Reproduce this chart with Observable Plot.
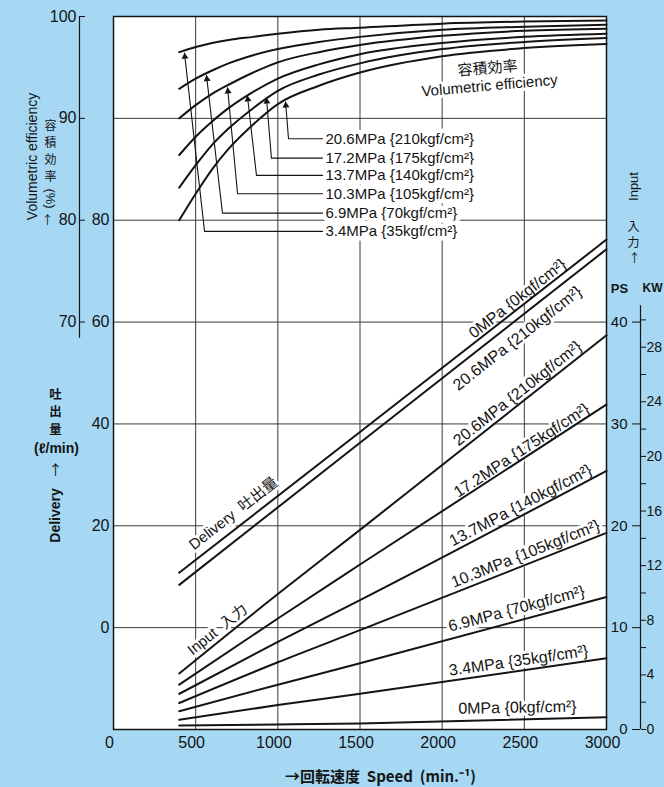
<!DOCTYPE html>
<html>
<head>
<meta charset="utf-8">
<script src="https://cdn.jsdelivr.net/npm/d3@7"></script>
<script src="https://cdn.jsdelivr.net/npm/@observablehq/plot@0.6"></script>
<style>
  html, body { margin: 0; padding: 0; background: #a6d8f4; }
  #chart svg { display: block; }
</style>
</head>
<body>
<div id="chart"></div>
<script>
// ---------------- data ----------------
// Volumetric efficiency (%) vs speed (min^-1)
const effSpeeds = [400, 500, 600, 700, 850, 1000, 1250, 1500, 2000, 2500, 3000];
const eff_3_4  = [96.5, 97.0, 97.4, 97.7, 98.0, 98.3, 98.7, 98.9, 99.3, 99.5, 99.6];
const eff_6_9  = [92.9, 93.9, 94.7, 95.4, 96.2, 96.8, 97.5, 98.0, 98.7, 99.0, 99.2];
const eff_10_3 = [90.0, 91.3, 92.4, 93.3, 94.5, 95.5, 96.5, 97.2, 98.1, 98.6, 98.8];
const eff_13_7 = [86.4, 88.2, 89.7, 91.0, 92.6, 93.9, 95.3, 96.3, 97.4, 98.0, 98.3];
const eff_17_2 = [83.2, 85.4, 87.4, 89.0, 91.0, 92.7, 94.3, 95.4, 96.8, 97.5, 97.9];
const eff_20_6 = [80.0, 82.6, 85.0, 87.0, 89.4, 91.4, 93.2, 94.5, 96.1, 96.9, 97.3];

// Delivery (l/min) vs speed
const delivSpeeds = [400, 1500, 3000];
const deliv_0    = [10.8, 38.4, 76.2];
const deliv_20_6 = [8.4, 36.3, 74.3];

// Input (PS) vs speed
const inputSpeeds = [400, 1000, 1500, 3000];
const input_20_6 = [5.5, 13.3, 19.6, 38.7];
const input_17_2 = [4.4, 10.9, 16.2, 31.9];
const input_13_7 = [3.5, 8.6, 12.7, 25.4];
const input_10_3 = [2.6, 6.6, 9.75, 19.3];
const input_6_9  = [1.8, 4.4, 6.5, 13.0];
const input_3_4  = [0.95, 2.4, 3.5, 7.0];
const input_0    = [0.4, 0.5, 0.6, 1.2];

// tick values
const xTicks = [0, 500, 1000, 1500, 2000, 2500, 3000];
const xGrid = [500, 1000, 1500, 2000, 2500];
const effTicks = [100, 90, 80, 70];
const delivTicks = [80, 60, 40, 20, 0];
const delivGrid = [0, 20, 40, 60, 80, 100];
const psTicks = [0, 10, 20, 30, 40];
const kwTicks = [0, 2, 4, 6, 8, 10, 12, 14, 16, 18, 20, 22, 24, 26, 28, 30];
const kwPerPs = 0.746;

// pressure callouts for the efficiency curves
const calloutText = ["20.6MPa {210kgf/cm²}", "17.2MPa {175kgf/cm²}", "13.7MPa {140kgf/cm²}",
                     "10.3MPa {105kgf/cm²}", "6.9MPa {70kgf/cm²}", "3.4MPa {35kgf/cm²}"];
const calloutTipSpeed  = [1047, 931, 815, 694, 566, 432];
const calloutTipEff    = [91.6, 92.0, 92.2, 93.0, 94.2, 96.4];
const calloutBendSpeed = [1065, 961, 870, 755, 663, 554];
const calloutRowEff    = [88.0, 86.1, 84.4, 82.6, 80.7, 78.9];
const calloutEndSpeed  = 1272;
const calloutTextSpeed = 1290;

// labels written along the straight lines
const lineLabelText = ["0MPa {0kgf/cm²}", "20.6MPa {210kgf/cm²}", "20.6MPa {210kgf/cm²}",
  "17.2MPa {175kgf/cm²}", "13.7MPa {140kgf/cm²}", "10.3MPa {105kgf/cm²}",
  "6.9MPa {70kgf/cm²}", "3.4MPa {35kgf/cm²}", "0MPa {0kgf/cm²}"];
const lineLabelSeries = ["d0", "d20.6", "i20.6", "i17.2", "i13.7", "i10.3", "i6.9", "i3.4", "i0"];
const lineLabelSpeed = [2458, 2458, 2458, 2483, 2477, 2507, 2452, 2465, 2458];
const lineLabelValue = [64.6, 56.8, 33.0, 27.4, 22.0, 17.25, 11.85, 6.75, 2.15];

// ---------------- layout ----------------
const W = 664, H = 787, ML = 113, MR = 58, MT = 16, MB = 58;
const yDomain = [-20, 120];              // common y unit = delivery l/min
const eff = e => 2 * e - 80;             // efficiency % -> common unit
const ps = p => 2 * p - 20;              // PS -> common unit
const kw = k => ps(k / kwPerPs);         // kW -> common unit
const kx = (W - ML - MR) / 3000;
const ky = (H - MT - MB) / (yDomain[1] - yDomain[0]);
const angleOf = (xs, ds) =>
  -Math.atan2((ds[ds.length - 1] - ds[0]) * ky, (xs[xs.length - 1] - xs[0]) * kx) * 180 / Math.PI;

const latin = "'Liberation Sans', Arial, 'Noto Sans CJK JP', sans-serif";
const cjk = "'Noto Sans CJK JP', 'Liberation Sans', sans-serif";
const ink = "#141414";

// ---------------- tables ----------------
const effNames = ["3.4", "6.9", "10.3", "13.7", "17.2", "20.6"];
const effVals = [eff_3_4, eff_6_9, eff_10_3, eff_13_7, eff_17_2, eff_20_6];
const effRows = effNames.flatMap((n, i) => effSpeeds.map((s, j) => ({n, x: s, y: eff(effVals[i][j])})));

const series = {
  "d0": {xs: delivSpeeds, ds: deliv_0},
  "d20.6": {xs: delivSpeeds, ds: deliv_20_6},
  "i20.6": {xs: inputSpeeds, ds: input_20_6.map(ps)},
  "i17.2": {xs: inputSpeeds, ds: input_17_2.map(ps)},
  "i13.7": {xs: inputSpeeds, ds: input_13_7.map(ps)},
  "i10.3": {xs: inputSpeeds, ds: input_10_3.map(ps)},
  "i6.9": {xs: inputSpeeds, ds: input_6_9.map(ps)},
  "i3.4": {xs: inputSpeeds, ds: input_3_4.map(ps)},
  "i0": {xs: inputSpeeds, ds: input_0.map(ps)}
};
const straightRows = Object.entries(series).flatMap(([n, s]) => s.xs.map((x, j) => ({n, x, y: s.ds[j]})));

const lineLabelRows = lineLabelText.map((t, i) => {
  const s = series[lineLabelSeries[i]];
  const isDeliv = lineLabelSeries[i].startsWith("d");
  return {text: t, x: lineLabelSpeed[i], y: isDeliv ? lineLabelValue[i] : ps(lineLabelValue[i]),
          angle: angleOf(s.xs, s.ds)};
});
const seriesLabelRows = [
  {text: "Delivery  吐出量", x: 730, y: 22.4, angle: angleOf(series["d0"].xs, series["d0"].ds)},
  {text: "Input  入力", x: 633, y: ps(9.8), angle: angleOf(series["i20.6"].xs, series["i20.6"].ds)}
];

const leaderRows = calloutText.flatMap((t, i) => [
  {n: t, x: calloutTipSpeed[i], y: eff(calloutTipEff[i])},
  {n: t, x: calloutBendSpeed[i], y: eff(calloutRowEff[i])},
  {n: t, x: calloutEndSpeed, y: eff(calloutRowEff[i])}
]);
const headRows = calloutText.map((t, i) => {
  const dxp = (calloutBendSpeed[i] - calloutTipSpeed[i]) * kx;
  const dyp = (eff(calloutTipEff[i]) - eff(calloutRowEff[i])) * ky;
  const len = Math.hypot(dxp, dyp), back = 3.5 / len;
  return {
    x: calloutTipSpeed[i] + (calloutBendSpeed[i] - calloutTipSpeed[i]) * back,
    y: eff(calloutTipEff[i]) + (eff(calloutRowEff[i]) - eff(calloutTipEff[i])) * back,
    r: -Math.atan2(dxp, dyp) * 180 / Math.PI
  };
});
const calloutLabelRows = calloutText.map((t, i) => ({text: t, x: calloutTextSpeed, y: eff(calloutRowEff[i])}));

// free-standing annotation in frame pixel space
const note = (text, px, py, opts = {}) => Plot.text([text], {
  frameAnchor: "top-left", dx: px - ML, dy: py - MT, text: d => d,
  textAnchor: "middle", lineAnchor: "middle", fill: ink, fontFamily: cjk, fontSize: 14, ...opts
});
// vertical stack of CJK characters
const stack = (chars, px, py0, step, opts = {}) => Array.from(chars).map((c, i) => note(c, px, py0 + i * step, opts));

const chart = Plot.plot({
  width: W, height: H,
  marginLeft: ML, marginRight: MR, marginTop: MT, marginBottom: MB,
  style: {background: "#a6d8f4", fontFamily: latin, fontSize: "16px", color: ink},
  x: {domain: [0, 3000], axis: null},
  y: {domain: yDomain, axis: null},
  marks: [
    Plot.frame({fill: "white", stroke: null}),
    Plot.ruleX(xGrid, {stroke: "#3a3a3a", strokeWidth: 1}),
    Plot.ruleY(delivGrid, {stroke: "#3a3a3a", strokeWidth: 1}),

    // labels with white backing (drawn under the curves)
    Plot.text(calloutLabelRows, {x: "x", y: "y", text: "text", textAnchor: "start", lineAnchor: "middle",
      fontSize: 15, fontFamily: latin, fill: ink, stroke: "white", strokeWidth: 9, paintOrder: "stroke"}),
    Plot.text(lineLabelRows, {x: "x", y: "y", text: "text", rotate: "angle", textAnchor: "middle", lineAnchor: "middle",
      fontSize: 16, fontFamily: latin, fill: ink, stroke: "white", strokeWidth: 6, paintOrder: "stroke"}),
    Plot.text(seriesLabelRows, {x: "x", y: "y", text: "text", rotate: "angle", textAnchor: "middle", lineAnchor: "middle",
      fontSize: 15, fontFamily: latin, fill: ink, stroke: "white", strokeWidth: 6, paintOrder: "stroke"}),
    Plot.text(["容積効率"], {x: 2276, y: eff(94.9), text: d => d, rotate: -5, fontFamily: cjk, fontSize: 15,
      fill: ink, stroke: "white", strokeWidth: 6, paintOrder: "stroke"}),
    Plot.text(["Volumetric efficiency"], {x: 2288, y: eff(93.2), text: d => d, rotate: -5, fontFamily: latin, fontSize: 15,
      fill: ink, stroke: "white", strokeWidth: 6, paintOrder: "stroke"}),

    // callout leaders
    Plot.line(leaderRows, {x: "x", y: "y", z: "n", stroke: ink, strokeWidth: 1.1}),
    Plot.dot(headRows, {x: "x", y: "y", rotate: "r", symbol: "triangle", r: 2.6, fill: ink, stroke: null}),

    // curves and lines
    Plot.line(effRows, {x: "x", y: "y", z: "n", curve: "monotone-x", stroke: ink, strokeWidth: 2}),
    Plot.line(straightRows, {x: "x", y: "y", z: "n", curve: "monotone-x", stroke: ink, strokeWidth: 2}),

    Plot.frame({stroke: ink, strokeWidth: 1.5}),

    // axes
    Plot.axisX(xTicks, {anchor: "bottom", tickSize: 0, tickPadding: 7, dx: -4, label: null, fontSize: 16, color: ink,
      tickFormat: d => String(d)}),
    Plot.axisY(delivTicks, {anchor: "left", tickSize: 0, tickPadding: 4, label: null, fontSize: 16, color: ink,
      tickFormat: d => String(d)}),
    Plot.axisY(effTicks.map(eff), {anchor: "left", dx: -28, tickSize: 6, tickPadding: 3, label: null, fontSize: 16,
      color: ink, tickFormat: d => String((d + 80) / 2)}),
    Plot.ruleX([0], {y1: eff(100), y2: eff(68.4), dx: -34, stroke: ink, strokeWidth: 1.2}),
    Plot.axisY(psTicks.map(ps), {anchor: "left", dx: 640 - ML, tickSize: 8, tickPadding: 5, label: null, fontSize: 15,
      color: ink, tickFormat: d => String((d + 20) / 2)}),
    Plot.axisY(kwTicks.map(kw), {anchor: "right", dx: 34, tickSize: 5, tickPadding: 1, label: null, fontSize: 14,
      color: ink, tickFormat: d => {
        const k = kwTicks.find(t => Math.abs(kw(t) - d) < 1e-6);
        return k % 4 === 0 && k <= 28 ? String(k) : "";
      }}),
    Plot.ruleX([3000], {y1: ps(0), y2: ps(41.6), dx: 34, stroke: ink, strokeWidth: 1.2}),

    // titles
    note("Volumetric efficiency", 32, 156, {rotate: -90, fontFamily: latin, fontSize: 14}),
    ...stack("容積効率", 50, 126, 17, {fontSize: 12}),
    note("(%)", 50, 198, {rotate: 90, fontFamily: latin, fontSize: 13}),
    note("↑", 47, 221, {fontSize: 12}),
    ...stack("吐出量", 55, 394, 17.5, {fontSize: 12.5, fontWeight: "bold"}),
    note("(ℓ/min)", 56, 448, {fontFamily: latin, fontSize: 14, fontWeight: "bold"}),
    note("↑", 55, 470, {fontSize: 14}),
    note("Delivery", 55, 515, {rotate: -90, fontFamily: latin, fontSize: 14, fontWeight: "bold"}),
    note("Input", 633, 186, {rotate: -90, fontFamily: latin, fontSize: 13}),
    ...stack("入力", 633, 227, 16, {fontSize: 12}),
    note("↑", 634, 259, {fontSize: 12}),
    note("PS", 619, 288, {fontFamily: latin, fontSize: 13, fontWeight: "bold"}),
    note("KW", 652, 288, {fontFamily: latin, fontSize: 12, fontWeight: "bold"}),
    note("→回転速度  Speed  (min.⁻¹)", 380, 777, {fontSize: 15, fontWeight: "bold"})
  ]
});
document.getElementById("chart").appendChild(chart);
</script>
</body>
</html>
